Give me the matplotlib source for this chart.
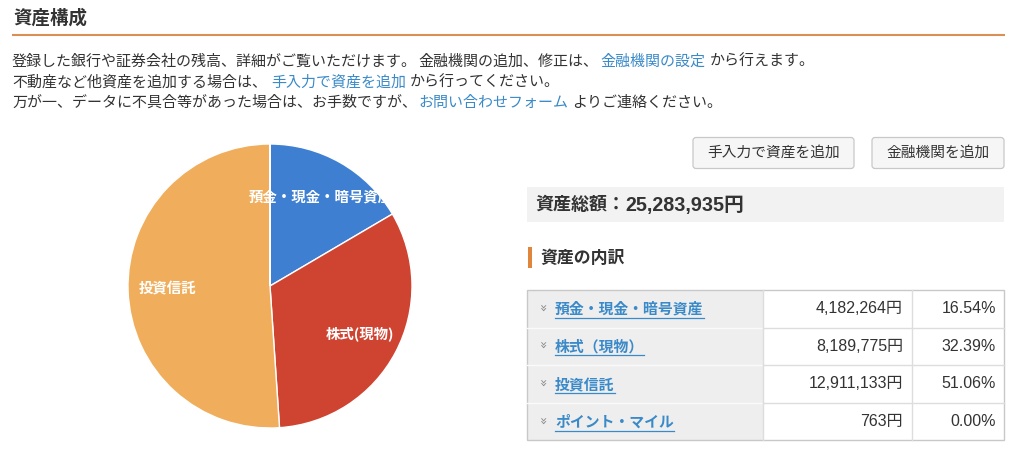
import matplotlib
matplotlib.use("Agg")
import matplotlib.pyplot as plt
from matplotlib.patches import Rectangle, FancyBboxPatch

plt.rcParams['font.family'] = ['Noto Sans CJK JP', 'DejaVu Sans']

# data
pie_labels = ['預金・現金・暗号資産', '株式(現物)', '投資信託', '']
table_labels = ['預金・現金・暗号資産', '株式（現物）', '投資信託', 'ポイント・マイル']
amounts = [4182264, 8189775, 12911133, 763]
slice_colors = ['#3f7fd2', '#cf4431', '#f0ae5c', '#8e44ad']
buttons = ['手入力で資産を追加', '金融機関を追加']

intro_lines = [
    [('登録した銀行や証券会社の残高、詳細がご覧いただけます。', False),
     ('金融機関の追加、修正は、', False), ('金融機関の設定', True), ('から行えます。', False)],
    [('不動産など他資産を追加する場合は、', False), ('手入力で資産を追加', True), ('から行ってください。', False)],
    [('万が一、データに不具合等があった場合は、お手数ですが、', False), ('お問い合わせフォーム', True),
     ('よりご連絡ください。', False)],
]
# left edge of each text run (px)
intro_x = [[12, 418, 600, 710], [12, 271, 410], [12, 418, 572]]

TEXT = '#333333'
LINK = '#3a8ac9'
ORANGE = '#dc8f55'
NUM_FONT = ['Liberation Sans', 'Noto Sans CJK JP']

total = sum(amounts)

fig = plt.figure(figsize=(10.24, 4.49), dpi=100)
ax = fig.add_axes([0, 0, 1, 1])
ax.set_xlim(0, 1024)
ax.set_ylim(449, 0)
ax.axis('off')
renderer = fig.canvas.get_renderer()


def text_width(t):
    return t.get_window_extent(renderer=renderer).width


# heading
ax.text(13, 18, '資産構成', fontsize=13.3, fontweight='bold', color=TEXT, va='center')
ax.plot([12, 1005], [34.5, 34.5], color=ORANGE, lw=1.5, solid_capstyle='butt')

# intro text with links
for i, (runs, xs) in enumerate(zip(intro_lines, intro_x)):
    y = 62 + i * 20.5
    for (s, is_link), x in zip(runs, xs):
        ax.text(x, y, s, fontsize=10.8, color=LINK if is_link else TEXT, va='center')

# buttons
btn_x = [693, 872]
btn_w = [161, 132]
for label, bx, bw in zip(buttons, btn_x, btn_w):
    ax.add_patch(FancyBboxPatch((bx, 137.5), bw, 31, boxstyle='round,pad=0,rounding_size=3',
                                fc='#f6f6f6', ec='#c8c8c8', lw=0.9))
    ax.text(bx + bw / 2, 153, label, fontsize=10.6, color=TEXT, ha='center', va='center')

# total box
ax.add_patch(Rectangle((527, 187), 477, 35, fc='#f2f2f2', ec='none'))
ax.text(535, 205, '資産総額：', fontsize=13, fontweight='bold', color=TEXT, va='center')
ax.text(625, 205.5, '{:,}円'.format(total), fontsize=14.2, fontweight='bold', color=TEXT,
        va='center', family=NUM_FONT)

# breakdown heading
ax.add_patch(Rectangle((528, 247), 4, 21, fc='#e0863c', ec='none'))
ax.text(540, 258, '資産の内訳', fontsize=12.2, fontweight='bold', color=TEXT, va='center')

# table
tx0, tx1, tx2, tx3 = 527, 763, 912, 1004
ty0, row_h = 290, 37.6
n = len(table_labels)
ax.add_patch(Rectangle((tx0, ty0), tx1 - tx0, row_h * n, fc='#eeeeee', ec='none'))
for k in range(1, n):
    yy = ty0 + k * row_h
    ax.plot([tx0, tx1], [yy, yy], color='#fafafa', lw=1)
    ax.plot([tx1, tx3], [yy, yy], color='#dddddd', lw=1)
for xx in (tx1, tx2):
    ax.plot([xx, xx], [ty0, ty0 + row_h * n], color='#dddddd', lw=1)
ax.add_patch(Rectangle((tx0, ty0), tx3 - tx0, row_h * n, fc='none', ec='#c8c8c8', lw=1))

for k, (label, amt) in enumerate(zip(table_labels, amounts)):
    yc = ty0 + (k + 0.5) * row_h
    ax.text(541, yc - 1, '»', rotation=-90, fontsize=9.5, color='#8a8a8a', ha='center', va='center',
            family='DejaVu Sans')
    lt = ax.text(555, yc, label, fontsize=10.7, color=LINK, va='center', fontweight='bold')
    w = text_width(lt)
    ax.plot([555, 555 + w], [yc + 9, yc + 9], color=LINK, lw=0.9)
    ax.text(903, yc, '{:,}円'.format(amt), fontsize=11.5, color=TEXT, ha='right', va='center',
            family=NUM_FONT)
    ax.text(996, yc, '{:.2f}%'.format(amt / total * 100), fontsize=11.5, color=TEXT,
            ha='right', va='center', family=NUM_FONT)

# pie chart
cx, cy, r = 270, 286, 142
pax = fig.add_axes([(cx - r) / 1024, (449 - cy - r) / 449, 2 * r / 1024, 2 * r / 449])
wedges, texts = pax.pie(amounts, labels=pie_labels, colors=slice_colors, startangle=90,
                        counterclock=False, labeldistance=0.72,
                        wedgeprops=dict(edgecolor='white', linewidth=1),
                        textprops=dict(color='white', fontsize=10.4, fontweight='bold'))
for tx in texts:
    tx.set_ha('center')
    tx.set_va('center')
clip = Rectangle((-1.2, -1.2), 2.05, 2.4, transform=pax.transData)
texts[0].set_clip_path(clip)
pax.set_xlim(-1, 1)
pax.set_ylim(-1, 1)
pax.set_aspect('equal')

fig.savefig('out.png', dpi=100)
